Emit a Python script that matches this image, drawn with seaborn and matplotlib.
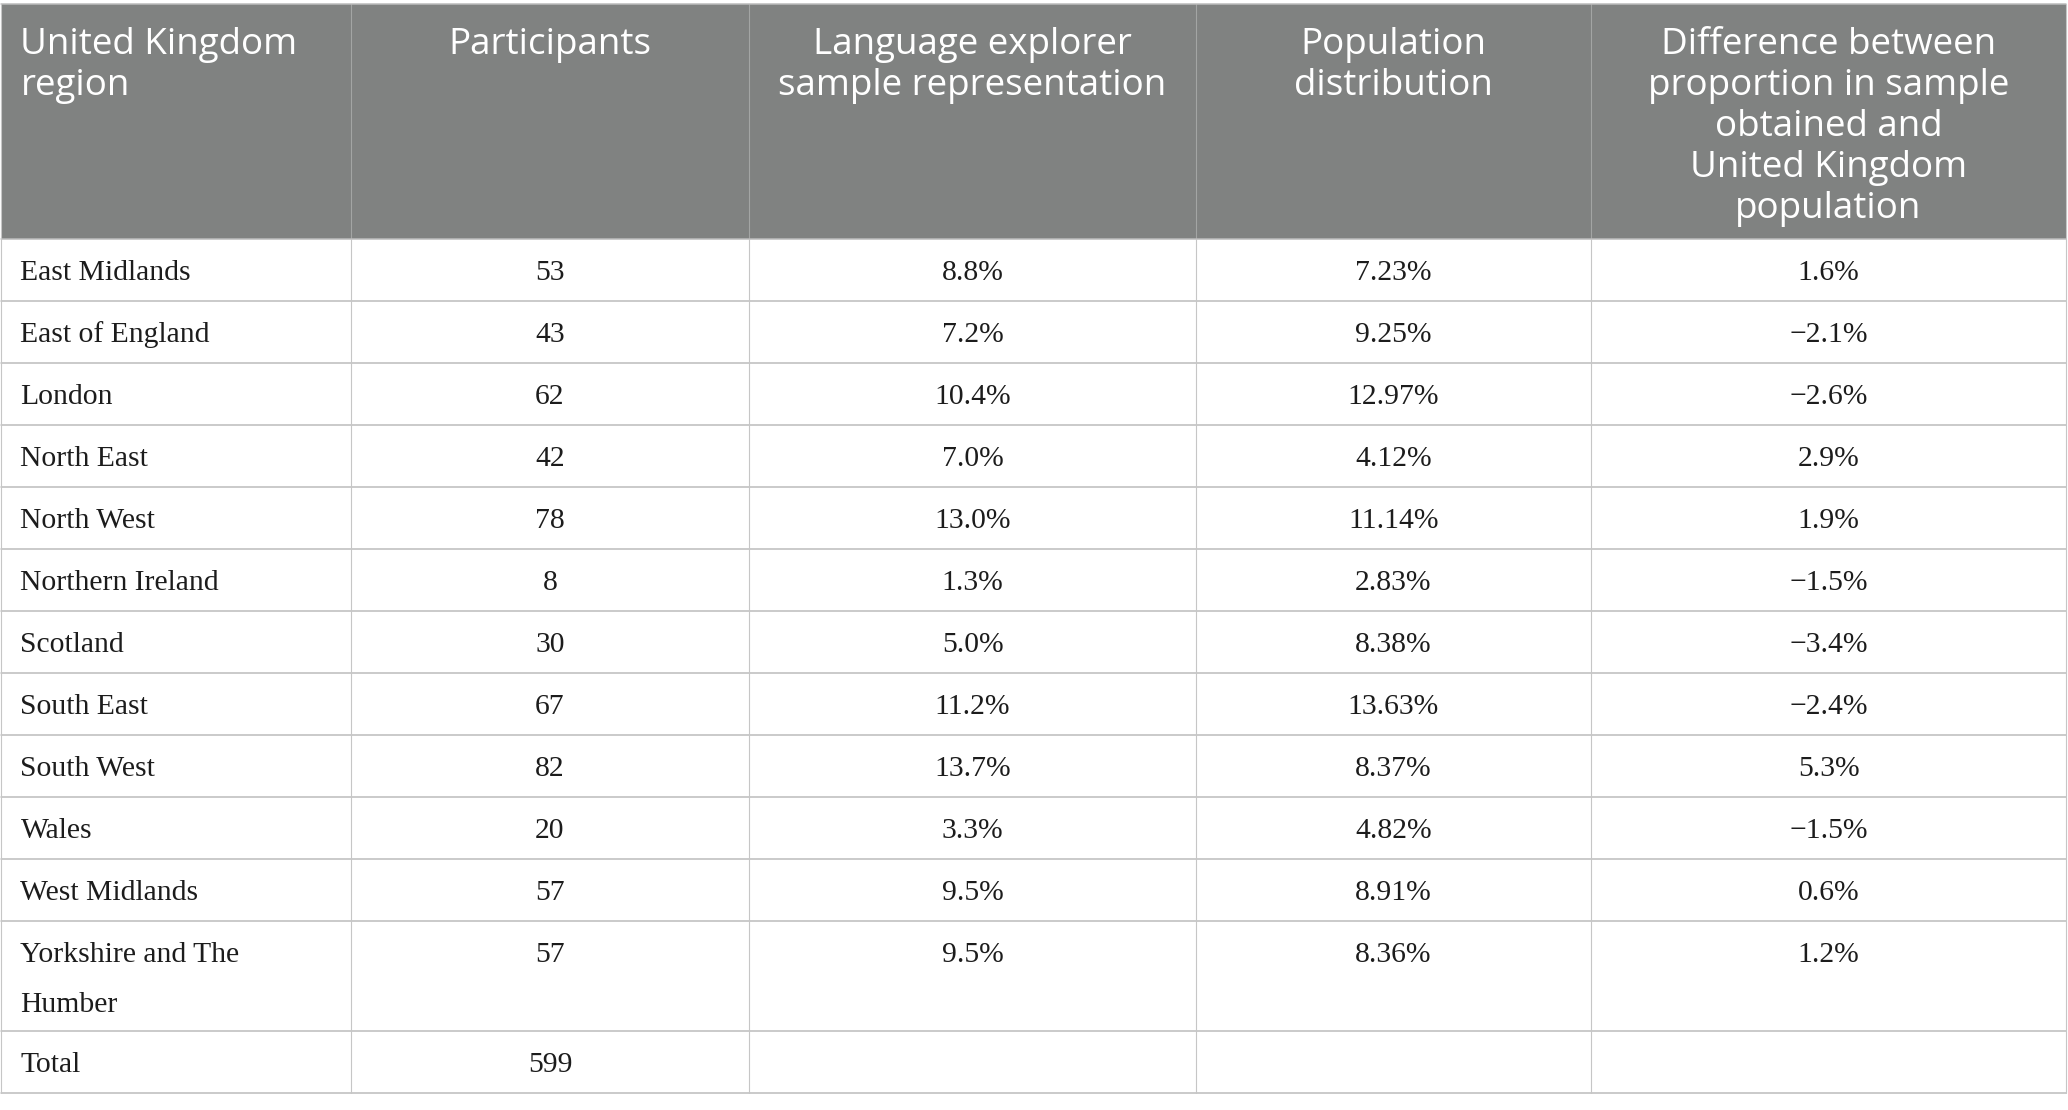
"""
Table of the Language explorer sample by United Kingdom region,
drawn as a figure with seaborn styling and matplotlib text / lines.
"""

import matplotlib
matplotlib.use("Agg")
import matplotlib.pyplot as plt
from matplotlib.patches import Rectangle
import seaborn as sns


# data
headers = ["United Kingdom\nregion",
           "Participants",
           "Language explorer\nsample representation",
           "Population\ndistribution",
           "Difference between\nproportion in sample\nobtained and\nUnited Kingdom\npopulation"]

regions = ["East Midlands", "East of England", "London", "North East", "North West",
           "Northern Ireland", "Scotland", "South East", "South West", "Wales",
           "West Midlands", "Yorkshire and The\nHumber"]
participants = [53, 43, 62, 42, 78, 8, 30, 67, 82, 20, 57, 57]
sample_share = [8.8, 7.2, 10.4, 7.0, 13.0, 1.3, 5.0, 11.2, 13.7, 3.3, 9.5, 9.5]
population_share = [7.23, 9.25, 12.97, 4.12, 11.14, 2.83, 8.38, 13.63, 8.37, 4.82, 8.91, 8.36]
difference = [1.6, -2.1, -2.6, 2.9, 1.9, -1.5, -3.4, -2.4, 5.3, -1.5, 0.6, 1.2]
total_label = "Total"
total_participants = 599


def pct(v, nd):
	return "{:.{}f}%".format(v, nd).replace("-", "\u2212")


# layout (pixels)
W, H = 2068, 1110
col_edges = [0.5, 351, 749, 1196, 1591, 2066]
header_top, header_bottom = 4, 239
row_h = 62
line_h = 47.5
body_pad = 20
body_base = 41.5
body_step = 50
head_base = 53
head_step = 41

header_color = "#808281"
hline_color = "#bcbcbc"
vline_color = "#c6c6c6"
text_color = "#1c1c1c"

sns.set_theme(style="white")
plt.rcParams["font.family"] = ["DejaVu Sans"]

fig = plt.figure(figsize=(W / 100, H / 100), dpi=100)
ax = fig.add_axes([0, 0, 1, 1])
ax.set_xlim(0, W)
ax.set_ylim(H, 0)
ax.axis("off")

# rows
rows = []
for i in range(len(regions)):
	rows.append([regions[i], str(participants[i]), pct(sample_share[i], 1),
				 pct(population_share[i], 2), pct(difference[i], 1)])
rows.append([total_label, str(total_participants), "", "", ""])

# header block
ax.add_patch(Rectangle((col_edges[0], header_top), col_edges[-1] - col_edges[0],
					   header_bottom - header_top, facecolor=header_color, edgecolor="none"))
for x in col_edges[1:-1]:
	ax.plot([x, x], [header_top, header_bottom], color="#a3a5a4", lw=0.8)

for j, h in enumerate(headers):
	for k, line in enumerate(h.split("\n")):
		if j == 0:
			x, ha = col_edges[0] + body_pad, "left"
		else:
			x, ha = (col_edges[j] + col_edges[j + 1]) / 2, "center"
		ax.text(x, header_top + head_base - 3 + k * head_step, line, ha=ha, va="baseline",
				color="white", fontsize=26.5, family=["Open Sans", "DejaVu Sans"])

# body
y = header_bottom
row_tops = []
for r in rows:
	n = max(len(c.split("\n")) for c in r)
	h = row_h + (n - 1) * line_h
	row_tops.append((y, h))
	for j, cell in enumerate(r):
		for k, line in enumerate(cell.split("\n")):
			if j == 0:
				x, ha = col_edges[0] + body_pad, "left"
			else:
				x, ha = (col_edges[j] + col_edges[j + 1]) / 2, "center"
			ax.text(x, y + body_base + k * body_step, line, ha=ha, va="baseline",
					color=text_color, fontsize=21.3,
					family=["Liberation Serif", "DejaVu Serif"])
	y += h
table_bottom = y

# grid lines
for top, h in row_tops:
	ax.plot([col_edges[0], col_edges[-1]], [top + h, top + h], color=hline_color, lw=1.1)
ax.plot([col_edges[0], col_edges[-1]], [header_bottom, header_bottom], color=hline_color, lw=1.1)
ax.plot([col_edges[0], col_edges[-1]], [header_top, header_top], color=hline_color, lw=1.1)
for x in col_edges:
	ax.plot([x, x], [header_bottom, table_bottom], color=vline_color, lw=0.8)
for x in [col_edges[0], col_edges[-1]]:
	ax.plot([x, x], [header_top, header_bottom], color=vline_color, lw=0.8)

fig.savefig("out.png", dpi=100, facecolor="white")
